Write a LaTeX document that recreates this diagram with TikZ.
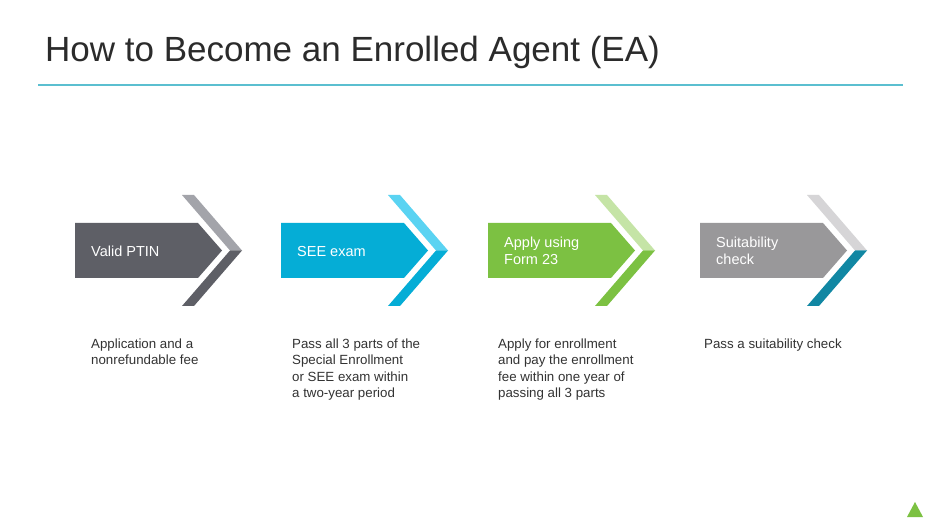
\documentclass[tikz,border=0pt]{standalone}
\usepackage{fontspec}
\setmainfont{Liberation Sans}
\definecolor{titlec}{HTML}{2B2B2B}
\definecolor{textc}{HTML}{333333}
\definecolor{rulec}{HTML}{5BBFD0}
\definecolor{gmain}{HTML}{5E5F66}
\definecolor{glight}{HTML}{A3A4AA}
\definecolor{bmain}{HTML}{05ADD6}
\definecolor{blight}{HTML}{5AD3F2}
\definecolor{emain}{HTML}{7CC142}
\definecolor{elight}{HTML}{C5E4A6}
\definecolor{smain}{HTML}{99989A}
\definecolor{slight}{HTML}{D6D5D7}
\definecolor{steal}{HTML}{1187A3}
\tikzset{
  arrowtext/.style={anchor=base west, inner sep=0pt, text=white, font=\fontsize{14.5}{17}\selectfont, align=left},
  desctext/.style={anchor=base west, inner sep=0pt, text=textc, font=\fontsize{13.3}{16.3}\selectfont, align=left},
}
\begin{document}
\begin{tikzpicture}[x=1pt,y=-1pt]
\useasboundingbox (0,0) rectangle (940,529);
\fill[white] (0,0) rectangle (940,529);
% title
\node[anchor=base west, inner sep=0pt, text=titlec, font=\fontsize{35}{40}\selectfont] (title) at (45,62) {How to Become an Enrolled Agent (EA)};
\draw[rulec, line width=1.2pt] (38,85) -- (903,85);
% arrows
\foreach \x/\m/\l/\b/\n in {75/gmain/glight/gmain/1, 281/bmain/blight/bmain/2, 488/emain/elight/emain/3, 700/smain/slight/steal/4}{
  \fill[\m] (\x,223) -- (\x+123,223) -- (\x+147,250.5) -- (\x+123,278) -- (\x,278) -- cycle;
  \fill[\l] (\x+107,195) -- (\x+119,195) -- (\x+167,250.5) -- (\x+155,250.5) -- cycle;
  \fill[\b] (\x+155,250.5) -- (\x+167,250.5) -- (\x+119,306) -- (\x+107,306) -- cycle;
}
% text nodes: base anchor = baseline of last line
\node[arrowtext] (t1) at (91,256.5) {Valid PTIN};
\node[arrowtext] (t2) at (297,256.5) {SEE exam};
\node[arrowtext] (t3) at (504,264.5) {Apply using\\Form 23};
\node[arrowtext] (t4) at (716,264.5) {Suitability\\check};
% descriptions
\node[desctext] (d1) at (91,365) {Application and a\\nonrefundable fee};
\node[desctext] (d2) at (292,397.5) {Pass all 3 parts of the\\Special Enrollment\\or SEE exam within\\a two-year period};
\node[desctext] (d3) at (498,397.5) {Apply for enrollment\\and pay the enrollment\\fee within one year of\\passing all 3 parts};
\node[desctext] (d4) at (704,348.5) {Pass a suitability check};
% corner triangle
\fill[emain] (907,517) -- (915,502) -- (923,517) -- cycle;
\end{tikzpicture}
\end{document}
